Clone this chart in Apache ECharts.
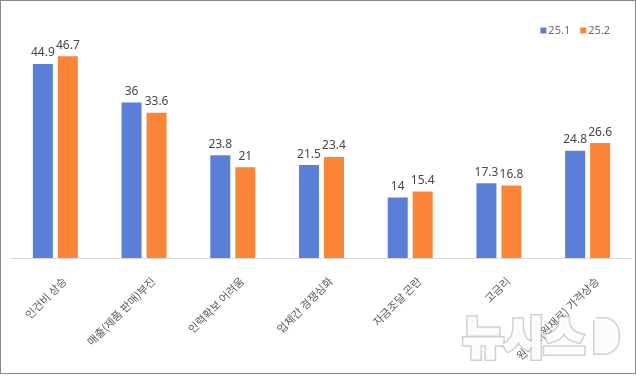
<!DOCTYPE html>
<html>
<head>
<meta charset="utf-8">
<script src="https://cdn.jsdelivr.net/npm/echarts@6/dist/echarts.min.js"></script>
<style>
  html, body { margin: 0; padding: 0; background: #fff; }
  #chart {
    width: 636px;
    height: 374px;
    box-sizing: border-box;
    border: 1px solid #8a8a8a;
  }
</style>
</head>
<body>
<div id="chart"></div>
<script>
// 카테고리와 값
var categories = ['인건비 상승', '매출(제품 판매)부진', '인력확보 어려움', '업체간 경쟁심화', '자금조달 곤란', '고금리', '원자재(원재료) 가격상승']
var seriesNames = ['25.1', '25.2']
var values251 = [44.9, 36, 23.8, 21.5, 14, 17.3, 24.8]
var values252 = [46.7, 33.6, 21, 23.4, 15.4, 16.8, 26.6]

var chart = echarts.init(document.getElementById('chart'))

var labelStyle = {
  show: true,
  position: 'top',
  distance: 5,
  color: '#474747',
  fontSize: 12,
  fontFamily: 'Noto Sans, sans-serif'
}

// 워터마크: 회색 외곽선 위에 흰 글자
var wmText = { x: 462, y: 336, verticalAlign: 'middle', text: '뉴시스', font: 'bold 44px "Noto Sans CJK KR"' }
var wmRect = { x: 595, y: 319, width: 21, height: 32, r: [0, 13, 13, 0] }
var outline = { fill: 'rgba(170,170,170,0.55)', stroke: 'rgba(170,170,170,0.55)', lineWidth: 6 }
var inner = { fill: 'rgba(255,255,255,0.92)', stroke: 'rgba(255,255,255,0.92)', lineWidth: 3 }

chart.setOption({
  animation: false,
  textStyle: { fontFamily: '"Noto Sans CJK KR", sans-serif' },
  legend: {
    right: 20,
    top: 19,
    itemWidth: 6,
    itemHeight: 6,
    itemGap: 10,
    icon: 'rect',
    textStyle: { color: '#6b6b6b', fontSize: 11, fontFamily: 'Noto Sans, sans-serif', padding: [0, 0, 0, -3] },
    data: seriesNames
  },
  grid: {
    left: 10,
    right: 3,
    top: 41,
    height: 216,
    outerBoundsMode: 'none',
    containLabel: false
  },
  xAxis: {
    type: 'category',
    data: categories,
    axisLine: { lineStyle: { color: '#d9d9d9' } },
    axisTick: { show: false },
    axisLabel: {
      rotate: 45,
      interval: 0,
      margin: 12,
      lineHeight: 26,
      formatter: function (v) { return '\n' + v },
      color: '#595959',
      fontSize: 11
    }
  },
  yAxis: {
    type: 'value',
    min: 0,
    max: 50,
    show: false,
    splitLine: { show: false }
  },
  series: [
    {
      name: seriesNames[0],
      type: 'bar',
      data: values251,
      barWidth: 20,
      barGap: '25%',
      itemStyle: { color: '#5b7fd9' },
      label: labelStyle
    },
    {
      name: seriesNames[1],
      type: 'bar',
      data: values252,
      barWidth: 20,
      itemStyle: { color: '#fb8536' },
      label: labelStyle
    }
  ],
  graphic: [
    { type: 'text', z: 100, style: Object.assign({}, wmText, outline) },
    { type: 'rect', z: 100, shape: wmRect, style: outline },
    { type: 'text', z: 101, style: Object.assign({}, wmText, inner) },
    { type: 'rect', z: 101, shape: wmRect, style: inner }
  ]
})
</script>
</body>
</html>
